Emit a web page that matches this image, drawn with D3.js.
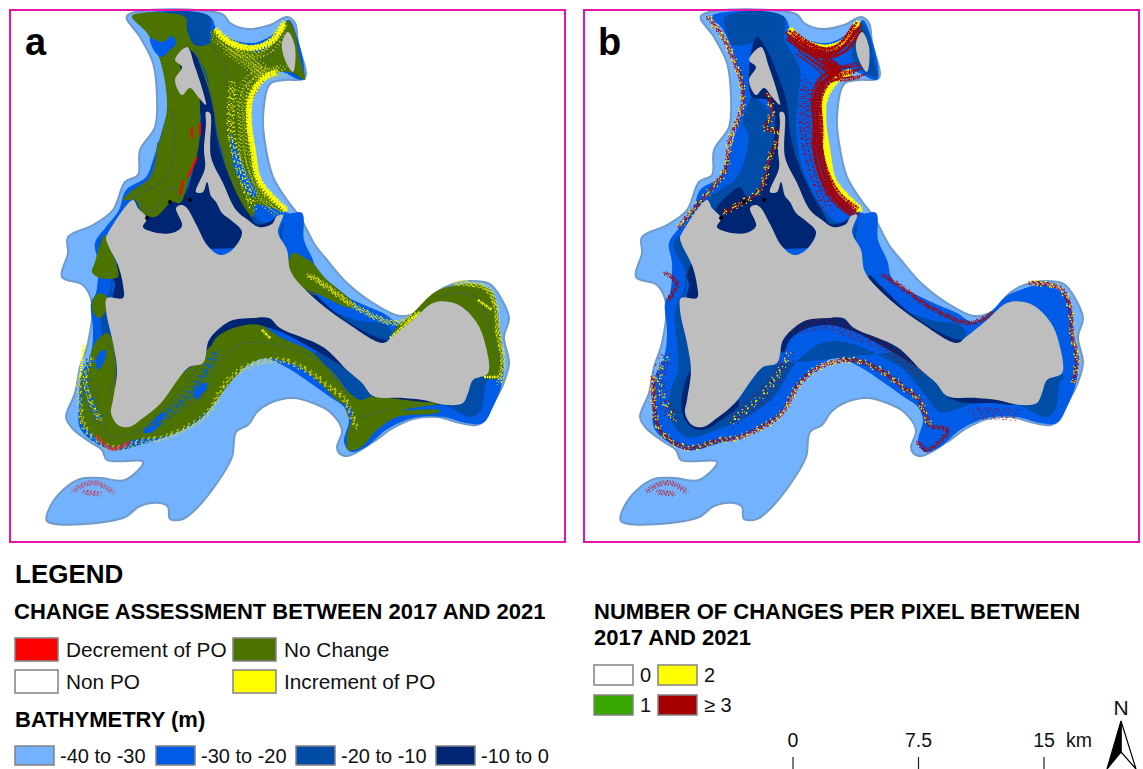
<!DOCTYPE html>
<html>
<head>
<meta charset="utf-8">
<script src="https://cdn.jsdelivr.net/npm/d3@7"></script>
<style>
body { margin: 0; background: #fff; }
text { font-family: "Liberation Sans", Arial, sans-serif; fill: #111; }
.map { filter: blur(0.45px); }
</style>
</head>
<body>
<script>
// outlines are in map units
var shelf40 = [[127,16],[222,14],[230,23],[248,29],[270,25],[287,17],[295,23],[298,43],[305,78],[285,80],[270,84],[263,117],[265,143],[273,177],[287,200],[300,217],[315,245],[327,260],[347,283],[373,303],[400,316],[417,312],[437,292],[453,284],[470,281],[490,284],[502,300],[509,318],[504,337],[509,363],[502,387],[493,403],[485,420],[477,425],[460,423],[437,417],[413,419],[393,428],[373,442],[348,456],[339,453],[337,447],[342,430],[330,412],[313,403],[293,398],[270,403],[257,412],[248,425],[236,432],[232,457],[217,483],[197,508],[183,519],[170,519],[168,507],[160,503],[140,506],[123,518],[47,521],[50,507],[63,490],[80,479],[100,478],[125,480],[143,462],[107,460],[102,450],[90,442],[72,428],[66,417],[75,393],[80,367],[88,343],[92,303],[83,285],[62,277],[68,253],[68,237],[93,225],[113,210],[125,182],[138,175],[140,150],[155,127],[157,97],[153,63],[140,37]];
var shelf30 = [[138,16],[149,30],[161,58],[169,103],[163,127],[153,160],[146,177],[126,190],[119,210],[106,227],[95,243],[98,263],[96,293],[91,303],[93,330],[91,353],[81,377],[79,403],[81,430],[113,450],[146,443],[176,433],[203,417],[223,387],[243,367],[263,358],[286,367],[306,380],[330,397],[344,407],[349,420],[344,442],[351,452],[366,447],[386,430],[413,418],[443,417],[466,423],[483,423],[493,407],[501,387],[504,363],[499,340],[498,313],[489,293],[466,285],[446,290],[431,297],[419,310],[399,322],[383,313],[353,300],[319,280],[313,260],[304,240],[302,213],[288,213],[263,193],[251,160],[248,117],[254,90],[273,70],[303,80],[304,67],[298,40],[289,20],[279,30],[253,43],[219,33],[209,16]];
var shelf20 = [
  [[151,17],[209,16],[210,40],[216,50],[226,70],[224,100],[222,130],[230,173],[250,210],[262,222],[272,222],[258,226],[230,190],[212,120],[195,60],[183,42],[179,43],[158,45],[154,37]],
  [[133,200],[134,197],[149,188],[163,177],[173,150],[174,133],[169,123],[173,107],[178,97],[201,120],[199,143],[190,175],[183,200],[150,220]],
  [[104,237],[99,245],[103,255],[110,268],[111,280],[109,293],[106,298],[101,310],[101,325],[103,343],[104,370],[97,390],[96,417],[112,437],[143,430],[170,418],[200,397],[220,365],[243,345],[262,341],[290,348],[306,356],[330,370],[352,396],[366,412],[403,403],[443,405],[472,417],[481,410],[486,383],[490,377],[400,350],[120,350],[115,240]],
  [[284,222],[282,240],[291,272],[319,303],[356,320],[386,325],[392,335],[370,350],[300,300],[280,230]],
  [[283,30],[288,24],[295,35],[300,60],[303,77],[295,75],[280,62],[278,50]]
];
var shelf10 = [
  [[183,37],[193,50],[203,73],[213,103],[216,133],[223,160],[236,190],[249,213],[256,224],[269,222],[280,215],[270,240],[150,240],[141,218],[143,207],[152,197],[166,187],[173,197],[184,195],[193,170],[199,143],[201,130],[200,112],[193,100],[178,97],[176,60]],
  [[295,275],[306,285],[331,309],[353,325],[378,338],[390,342],[380,355],[330,325],[300,295],[295,285]],
  [[209,353],[216,340],[229,330],[253,325],[276,330],[313,349],[343,367],[361,382],[371,395],[386,402],[419,403],[440,404],[440,395],[300,320],[230,315],[205,345]],
  [[116,372],[108,395],[108,412],[114,424],[124,430],[135,428],[150,418],[165,405],[160,395],[120,415],[120,380]],
  [[119,262],[113,275],[115,285],[113,298],[125,300],[125,270]]
];
var land = [
  [[108,233],[133,200],[138,208],[147,218],[143,227],[153,232],[172,233],[182,226],[176,208],[181,205],[186,207],[197,226],[207,245],[220,255],[232,250],[242,232],[232,221],[222,213],[216,202],[211,196],[207,182],[203,192],[196,192],[205,168],[204,150],[206,123],[206,112],[210,113],[211,157],[223,183],[236,210],[248,220],[259,227],[272,224],[277,216],[283,215],[278,232],[287,250],[291,272],[313,297],[347,323],[383,343],[392,337],[413,320],[433,303],[450,302],[462,307],[477,323],[485,343],[488,373],[473,380],[468,393],[463,403],[447,405],[423,400],[403,398],[373,396],[362,383],[347,370],[323,347],[280,328],[269,318],[253,318],[233,320],[221,327],[209,340],[203,363],[189,367],[179,378],[161,403],[143,418],[129,427],[118,425],[111,413],[113,400],[117,370],[113,343],[106,310],[107,298],[123,298],[123,285],[118,265],[109,247],[106,238]],
  [[175,60],[187,47],[195,67],[204,95],[206,105],[199,98],[190,88],[182,95],[175,80],[182,67]],
  [[282,43],[288,32],[295,47],[293,72],[285,60]]
];
// stable posidonia areas, panel a only
var noChange = [
  [[132,16],[185,17],[187,30],[195,45],[210,43],[212,30],[218,32],[237,43],[257,52],[277,38],[288,20],[295,33],[298,50],[303,70],[305,80],[293,73],[280,72],[265,80],[250,107],[248,123],[253,153],[258,180],[273,197],[285,212],[273,208],[255,205],[253,217],[243,205],[227,170],[220,143],[213,107],[205,70],[193,52],[185,47],[180,65],[190,85],[198,92],[200,117],[198,150],[188,183],[180,203],[172,202],[155,217],[143,213],[135,200],[123,200],[133,190],[150,177],[160,140],[167,107],[160,60],[147,33]],
  [[293,253],[305,258],[312,262],[325,278],[353,303],[352,308],[320,295],[295,282],[288,268]],
  [[392,337],[397,327],[413,313],[435,292],[457,285],[480,285],[493,293],[498,320],[502,350],[500,377],[484,377],[470,320],[450,310],[420,320]],
  [[105,235],[113,255],[118,270],[118,277],[100,278],[92,272],[95,262],[100,245]],
  [[100,293],[108,298],[107,308],[100,318],[93,312],[93,300]],
  [[107,333],[95,343],[88,363],[80,380],[82,400],[80,420],[93,435],[113,447],[133,440],[163,437],[182,430],[207,412],[230,383],[248,365],[267,358],[290,363],[300,367],[320,383],[337,400],[352,410],[347,437],[348,450],[360,448],[377,430],[397,417],[437,413],[440,410],[403,410],[443,403],[423,402],[370,397],[360,400],[337,380],[313,353],[280,337],[260,325],[237,327],[217,337],[207,352],[150,400],[130,420],[120,415],[115,400],[116,370],[112,340]]
];
var gaps30 = [
  [[232,133],[237,150],[248,175],[257,195],[252,197],[240,180],[233,165],[231,145]],
  [[150,38],[162,42],[172,36],[176,44],[170,50],[162,57],[155,52]],
  [[100,352],[106,350],[104,362],[98,370],[96,360]],
  [[193,395],[200,385],[207,383],[205,392],[198,400]],
  [[143,432],[155,418],[165,412],[160,425],[150,433]]
];
var contours = [
  [[195,47],[213,103],[220,143],[240,190],[255,213]],
  [[210,43],[225,67],[228,87],[227,123],[230,147]],
  [[245,97],[250,67],[268,57],[287,33]],
  [[172,110],[175,143],[167,177],[147,190],[130,200]],
  [[158,142],[150,180],[130,192]],
  [[140,200],[150,212],[163,193],[172,187],[180,200]],
  [[97,383],[97,417],[113,437],[143,428],[170,417],[205,392],[225,355],[243,343],[290,348],[320,362],[345,390],[350,417],[390,407]],
  [[105,340],[115,360],[110,393]],
  [[210,347],[183,387],[150,423]],
  [[440,297],[460,293],[480,300],[488,323],[500,363]],
  [[287,277],[315,295]]
];
// edge of the meadow, where the pixels flicker between years
var edgeNorth = [[216,30],[229,42],[253,48],[273,40],[284,23]];
var edgeEast = [[276,72],[264,78],[251,97],[249,120],[253,150],[259,180],[273,198],[286,210]];
var meadowNorth = [[216,35],[233,47],[253,53],[269,47],[284,27]];
var meadowEast = [[253,63],[263,73],[251,80],[243,97],[244,127],[244,150],[251,177],[263,198],[281,212]];
var meadowInner = [[233,82],[231,130],[239,167],[253,207]];
var meadowCross = [[228,48],[245,60],[262,73],[285,70]];
var edgeWest = [[134,17],[149,37],[161,63],[168,85],[168,107],[156,140],[151,170],[139,187],[119,210],[104,228]];
var edgeIsland = [[193,93],[198,113],[192,128],[206,133],[196,157],[186,190],[169,202],[149,213]];
var edgeSouth = [[79,377],[80,405],[86,430],[113,448],[146,440],[163,438],[206,415],[226,383],[246,367],[279,360],[306,370],[333,390],[343,397],[356,427]];
var innerSouth = [[156,423],[193,390],[216,353]];
var innerCoast = [[219,330],[253,323],[279,333],[306,343],[350,375]];
var edgeNorthCoast = [[309,275],[329,288],[356,307],[396,323],[419,313]];
var edgeCape = [[456,283],[486,288],[496,307],[498,333],[503,360],[499,383]];
var edgeLobe = [[344,442],[353,450],[374,430],[359,427]];
var edgeBay = [[399,413],[443,415]];
var edgeWestCoast = [[91,273],[103,283],[94,300]];
var westFlats = [[93,357],[85,375],[90,400],[100,420]];
var spitUpper = [[72,492],[83,485],[97,483],[113,492]];
var spitLower = [[83,492],[100,494]];
var lossA = [[[200,123],[200,135]],[[192,127],[192,138]],[[197,157],[188,177]],[[183,180],[180,195]]];
var gainA = [[[390,338],[420,312]],[[478,300],[492,310]],[[84,345],[80,378]],[[270,338],[262,330]],[[484,377],[498,377]]];
var lossCoastA = [[96,435],[112,449],[130,442]];
var blackSpots = [[170,202],[190,200],[147,218]];

var assessLabels = ["Decrement of PO", "No Change", "Non PO", "Increment of PO"];
var assessColors = ["#ff0000", "#4c7300", "#ffffff", "#ffff00"];
var bathyLabels = ["-40 to -30", "-30 to -20", "-20 to -10", "-10 to 0"];
var bathyColors = ["#73b2ff", "#005ce6", "#004da8", "#002673"];
var countLabels = ["0", "2", "1", "≥ 3"];
var countColors = ["#ffffff", "#ffff00", "#38a800", "#a80000"];
var scaleKm = [0, 7.5, 15];

var svg = d3.select("body").append("svg")
  .attr("width", 1143)
  .attr("height", 769)
  .style("display", "block");

var mapX = d3.scaleLinear().domain([10, 565]).range([10, 565]);
var mapY = d3.scaleLinear().domain([10, 542]).range([10, 542]);
var ringPath = d3.line().x(function(d) { return mapX(d[0]); }).y(function(d) { return mapY(d[1]); }).curve(d3.curveCatmullRomClosed.alpha(0.5));
var linePath = d3.line().x(function(d) { return mapX(d[0]); }).y(function(d) { return mapY(d[1]); }).curve(d3.curveCatmullRom);

function fillShapes(g, shapes, color) {
  g.selectAll(null).data(shapes).enter().append("path")
    .attr("d", ringPath)
    .attr("fill", color);
}

// parallel broken strokes, so an edge reads as scattered pixels
var passes = [[0,0],[-1,0.6],[0.9,-0.5],[1.7,1.1],[-1.8,-1],[0.5,1.8],[-0.5,-1.8],[1.4,-1.5],[-1.4,1.5]];
function speck(g, lines, color, width, dash, spread) {
  var use = spread ? passes : passes.slice(0, 1);
  use.forEach(function(p, i) {
    g.selectAll(null).data(lines).enter().append("path")
      .attr("d", linePath)
      .attr("fill", "none")
      .attr("stroke", color)
      .attr("stroke-width", width)
      .attr("stroke-dasharray", dash)
      .attr("stroke-dashoffset", i * 3.7)
      .attr("transform", "translate(" + (p[0] * (spread || 0)) + "," + (p[1] * (spread || 0)) + ")");
  });
}

function drawBase(g) {
  g.append("path").attr("d", ringPath(shelf40))
    .attr("fill", bathyColors[0])
    .attr("stroke", "#6f9ac9").attr("stroke-width", 2).attr("stroke-linejoin", "round");
  g.append("path").attr("d", ringPath(shelf30)).attr("fill", bathyColors[1]);
  fillShapes(g, shelf20, bathyColors[2]);
  fillShapes(g, shelf10, bathyColors[3]);
}

function drawLand(g) {
  fillShapes(g, land, "#bebebe");
  g.selectAll(null).data(blackSpots).enter().append("circle")
    .attr("cx", function(d) { return mapX(d[0]); })
    .attr("cy", function(d) { return mapY(d[1]); })
    .attr("r", 2).attr("fill", "#000");
}

// panel a
var panelA = svg.append("g").attr("class", "map");
drawBase(panelA);
fillShapes(panelA, noChange, "#4c7300");
fillShapes(panelA, gaps30, bathyColors[1]);
speck(panelA, contours, "#45682c", 1.6, null);
speck(panelA, [meadowNorth, meadowCross, meadowEast], "#c8d21e", 1.3, "1 2.2 1.4 3 0.8 2.6", 3);
speck(panelA, [meadowInner], "#ffff00", 1.2, "1 4 0.8 3 1.4 6", 2);
speck(panelA, [edgeNorth, edgeEast], "#ffff00", 1.8, "2.2 1.2 1.2 1.8 1.8 1.4", 1.2);
speck(panelA, [edgeCape, edgeNorthCoast, westFlats], "#e6e619", 1.2, "1.2 3 1.8 4.4 0.8 3.6", 1.2);
speck(panelA, [edgeSouth], "#dcdc22", 1.1, "1 4 1.6 6 0.8 5", 1.3);
speck(panelA, [innerSouth, westFlats], bathyColors[1], 1.6, "1.6 4 1 6 2 5", 2);
speck(panelA, gainA, "#ffff00", 2.6, "2 1 1 0.8");
speck(panelA, lossA, "#ff0000", 2, null);
speck(panelA, [lossCoastA], "#e8262a", 1.3, "1 2.4 0.8 3", 0.8);
speck(panelA, [spitUpper, spitLower], "#d6262a", 1, "0.9 2.2 0.7 3.2", 1.2);
drawLand(panelA);

// panel b, same outlines shifted to the second frame
var panelB = svg.append("g").attr("class", "map").attr("transform", "translate(574,0)");
drawBase(panelB);
speck(panelB, [edgeNorth, edgeEast], "#ffff00", 2.4, "3 0.7 1.6 1.1 2.3 0.9", 1.3);
speck(panelB, [meadowNorth, meadowEast], "#a80000", 2.2, "2.2 0.6 1.4 0.8 3 0.7", 2.6);
speck(panelB, [meadowCross], "#a80000", 1.8, "1.8 0.6 1 0.8", 4);
speck(panelB, [meadowInner], "#a80000", 1.4, "1 4 0.8 3 1.4 6", 3);
speck(panelB, [edgeWest, edgeIsland, edgeSouth, edgeNorthCoast, edgeCape, edgeLobe, edgeWestCoast], "#a80000", 1.1, "1.4 2.6 0.8 5 1.8 3.4", 1);
speck(panelB, [innerSouth, innerCoast, edgeBay, westFlats], "#a80000", 1.2, "0.8 6 1.2 7 0.8 4", 3);
speck(panelB, [edgeWest, edgeSouth, edgeCape, edgeIsland, westFlats, innerSouth], "#ffff00", 1.2, "1.2 11 0.8 15 1.6 9", 1.5);
speck(panelB, [spitUpper, spitLower], "#c3161c", 1, "0.9 2 0.7 3", 1.2);
drawLand(panelB);

// frames and panel letters
svg.selectAll(".frame").data([10, 584]).enter().append("rect")
  .attr("class", "frame")
  .attr("x", function(d) { return d; })
  .attr("y", 10)
  .attr("width", 555).attr("height", 532)
  .attr("fill", "none").attr("stroke", "#e614a8").attr("stroke-width", 2);
svg.selectAll(".letter").data([["a", 25], ["b", 598]]).enter().append("text")
  .attr("class", "letter")
  .attr("x", function(d) { return d[1]; })
  .attr("y", 55)
  .attr("font-size", 38).attr("font-weight", "bold")
  .style("fill", "#000")
  .text(function(d) { return d[0]; });

// legend
function title(txt, x, y, size) {
  svg.append("text").attr("x", x).attr("y", y)
    .attr("font-size", size).attr("font-weight", "bold").style("fill", "#000").text(txt);
}
function swatches(labels, colors, xs, ys, w, h, tx, size) {
  labels.forEach(function(lab, i) {
    svg.append("rect").attr("x", xs[i]).attr("y", ys[i]).attr("width", w).attr("height", h)
      .attr("fill", colors[i]).attr("stroke", "#828282").attr("stroke-width", 1.5);
    svg.append("text").attr("x", xs[i] + w + tx).attr("y", ys[i] + h / 2 + size * 0.36)
      .attr("font-size", size).text(lab);
  });
}
title("LEGEND", 15, 583, 26);
title("CHANGE ASSESSMENT BETWEEN 2017 AND 2021", 14, 619, 22);
swatches(assessLabels, assessColors, [15, 233, 15, 233], [638, 638, 670, 670], 43, 23, 8, 20.8);
title("BATHYMETRY (m)", 15, 727, 22);
swatches(bathyLabels, bathyColors, [15, 156, 296, 436], [746, 746, 746, 746], 39, 19, 6, 20);
title("NUMBER OF CHANGES PER PIXEL BETWEEN", 594, 619, 22);
title("2017 AND 2021", 594, 645, 22);
swatches(countLabels, countColors, [594, 658, 594, 658], [665, 665, 695, 695], 39, 20, 7, 20);

// scale bar
var kmX = d3.scaleLinear().domain([0, 15]).range([793, 1044]);
svg.selectAll(".km").data(scaleKm).enter().append("text")
  .attr("class", "km")
  .attr("x", function(d) { return kmX(d); })
  .attr("y", 747)
  .attr("text-anchor", "middle")
  .attr("font-size", 19.5)
  .text(function(d) { return d; });
svg.selectAll(".kmtick").data(scaleKm).enter().append("line")
  .attr("class", "kmtick")
  .attr("x1", function(d) { return kmX(d); })
  .attr("x2", function(d) { return kmX(d); })
  .attr("y1", 757).attr("y2", 769)
  .attr("stroke", "#222").attr("stroke-width", 1.2);
svg.append("text").attr("x", 1066).attr("y", 747).attr("font-size", 19.5).text("km");

// north arrow
svg.append("text").attr("x", 1121).attr("y", 715).attr("text-anchor", "middle").attr("font-size", 21).text("N");
svg.append("path").attr("d", "M1121,721L1136,769L1121,752Z").attr("fill", "#fff").attr("stroke", "#000").attr("stroke-width", 1.2);
svg.append("path").attr("d", "M1121,721L1107,769L1121,752Z").attr("fill", "#000").attr("stroke", "#000").attr("stroke-width", 1.2);
</script>
</body>
</html>
